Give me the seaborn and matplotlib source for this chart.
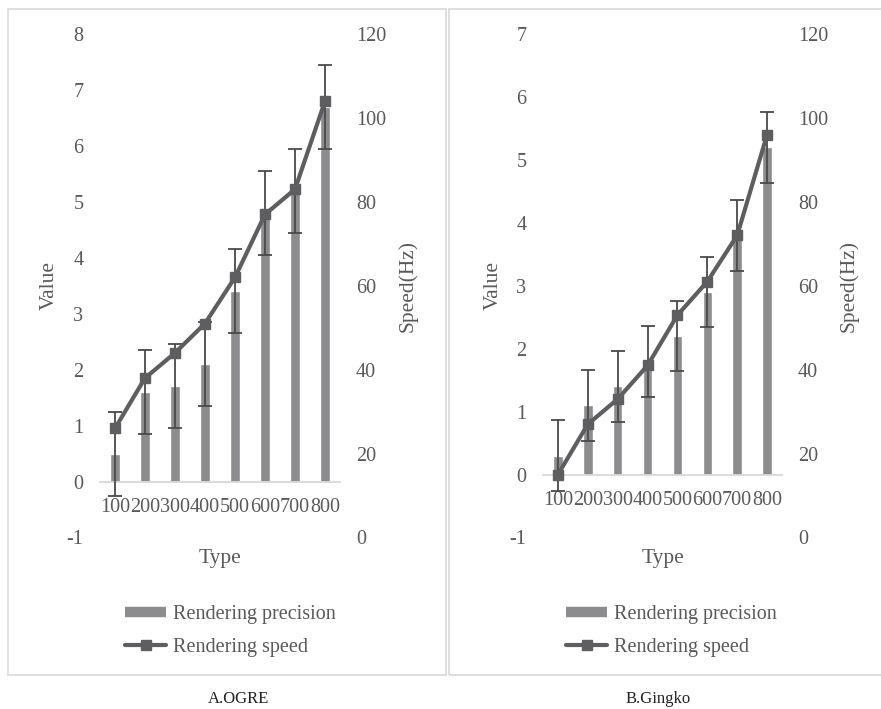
import matplotlib
matplotlib.use("Agg")
import matplotlib.pyplot as plt
from matplotlib.lines import Line2D
from matplotlib.patches import Rectangle
import seaborn as sns
import pandas as pd
import numpy as np

# ---------------- data ----------------
types = ["100", "200", "300", "400", "500", "600", "700", "800"]

ogre_precision = [0.5, 1.6, 1.7, 2.1, 3.4, 4.8, 5.2, 6.7]
ogre_precision_err = [0.75, 0.75, 0.75, 0.75, 0.75, 0.75, 0.75, 0.75]
ogre_speed = [26, 38, 44, 51, 62, 77, 83, 104]

gingko_precision = [0.3, 1.1, 1.4, 1.8, 2.2, 2.9, 3.8, 5.2]
gingko_precision_err = [0.56, 0.56, 0.56, 0.56, 0.56, 0.56, 0.56, 0.56]
gingko_speed = [15, 27, 33, 41, 53, 61, 72, 96]

value_ticks_a = [-1, 0, 1, 2, 3, 4, 5, 6, 7, 8]
value_ticks_b = [-1, 0, 1, 2, 3, 4, 5, 6, 7]
speed_ticks = [0, 20, 40, 60, 80, 100, 120]

captions = ["A.OGRE", "B.Gingko"]
legend_labels = ["Rendering precision", "Rendering speed"]

# ---------------- style ----------------
sns.set_style("white")
plt.rcParams["font.family"] = ["Liberation Serif", "DejaVu Serif"]
TXT = "#595959"
BAR = "#8c8c8e"
LINE = "#5e5e60"
ERR = "#4a4a4a"
GRID = "#d9d9d9"
FS = 14.5
FS_T = 15.5

W, H = 881, 709
fig = plt.figure(figsize=(W / 100, H / 100), dpi=100)


def fx(px):
    return px / W


def fy(py):
    return 1 - py / H


# panel borders
fig.add_artist(Rectangle((fx(8), fy(675)), fx(446 - 8), (675 - 9) / H,
                         transform=fig.transFigure, fill=False,
                         edgecolor=GRID, linewidth=1.2))
fig.add_artist(Rectangle((fx(449), fy(675)), fx(885 - 449), (675 - 9) / H,
                         transform=fig.transFigure, fill=False,
                         edgecolor=GRID, linewidth=1.2))

panels = [
    dict(x0=100, x1=340, prec=ogre_precision, err=ogre_precision_err,
         speed=ogre_speed, vticks=value_ticks_a, cap=captions[0], capx=238,
         legx=127),
    dict(x0=543, x1=782, prec=gingko_precision, err=gingko_precision_err,
         speed=gingko_speed, vticks=value_ticks_b, cap=captions[1], capx=658,
         legx=568),
]

top_px, bot_px = 34, 537.5
for p in panels:
    ax = fig.add_axes([fx(p["x0"]), fy(bot_px), fx(p["x1"] - p["x0"]),
                       (bot_px - top_px) / H])
    df = pd.DataFrame({"Type": types, "Value": p["prec"], "Speed": p["speed"]})
    sns.barplot(data=df, x="Type", y="Value", ax=ax, color=BAR, width=0.32,
                saturation=1, errorbar=None, zorder=2)
    ax.errorbar(x=np.arange(len(types)), y=p["prec"], yerr=p["err"], fmt="none",
                ecolor=ERR, elinewidth=1.3, capsize=5, capthick=1.3, zorder=3)
    ax.set_ylim(p["vticks"][0], p["vticks"][-1])
    ax.set_xlim(-0.5, len(types) - 0.5)
    ax.set_yticks(p["vticks"])
    ax.set_yticklabels([str(v) for v in p["vticks"]])
    for s in ["top", "left", "right"]:
        ax.spines[s].set_visible(False)
    ax.spines["bottom"].set_position(("data", 0))
    ax.spines["bottom"].set_color(GRID)
    ax.spines["bottom"].set_linewidth(1.3)
    ax.tick_params(axis="y", length=0, pad=12, labelsize=FS, labelcolor=TXT)
    ax.tick_params(axis="x", length=0, pad=11.5, labelsize=FS, labelcolor=TXT)
    ax.set_xlabel("Type", fontsize=FS_T, color=TXT)
    ax.set_ylabel("Value", fontsize=FS_T, color=TXT)
    ax.xaxis.set_label_coords(0.5, -0.022)
    ax.yaxis.set_label_coords(-0.17, 0.5)
    ax.patch.set_alpha(0)

    ax2 = ax.twinx()
    sns.lineplot(data=df, x=np.arange(len(types)), y="Speed", ax=ax2,
                 color=LINE, linewidth=3.0, marker="s", markersize=7.5,
                 markeredgecolor=LINE, markeredgewidth=1, zorder=4)
    ax2.set_ylim(speed_ticks[0], speed_ticks[-1])
    ax2.set_yticks(speed_ticks)
    ax2.set_yticklabels([str(v) for v in speed_ticks])
    for s in ["top", "left", "right", "bottom"]:
        ax2.spines[s].set_visible(False)
    ax2.tick_params(axis="y", length=0, pad=11.5, labelsize=FS, labelcolor=TXT)
    ax2.set_ylabel("Speed(Hz)", fontsize=FS_T, color=TXT)
    ax2.yaxis.set_label_coords(1.24, 0.5)
    ax2.set_xlim(-0.5, len(types) - 0.5)

    handles = [Line2D([], [], color=BAR, linewidth=7.5, solid_capstyle="butt"),
               Line2D([], [], color=LINE, linewidth=3.0, marker="s",
                      markersize=7.5, solid_capstyle="round")]
    fig.legend(handles, legend_labels, loc="center left",
               bbox_to_anchor=(fx(p["legx"] - 2), fy(631)),
               bbox_transform=fig.transFigure, frameon=False, fontsize=FS,
               labelcolor=TXT, handlelength=2.05, handletextpad=0.35,
               labelspacing=0.65, borderpad=0, borderaxespad=0)

    fig.text(fx(p["capx"]), fy(699), p["cap"], ha="center", va="center",
             fontsize=12, color="#222222")

fig.savefig("out.png", dpi=100, facecolor="white")
